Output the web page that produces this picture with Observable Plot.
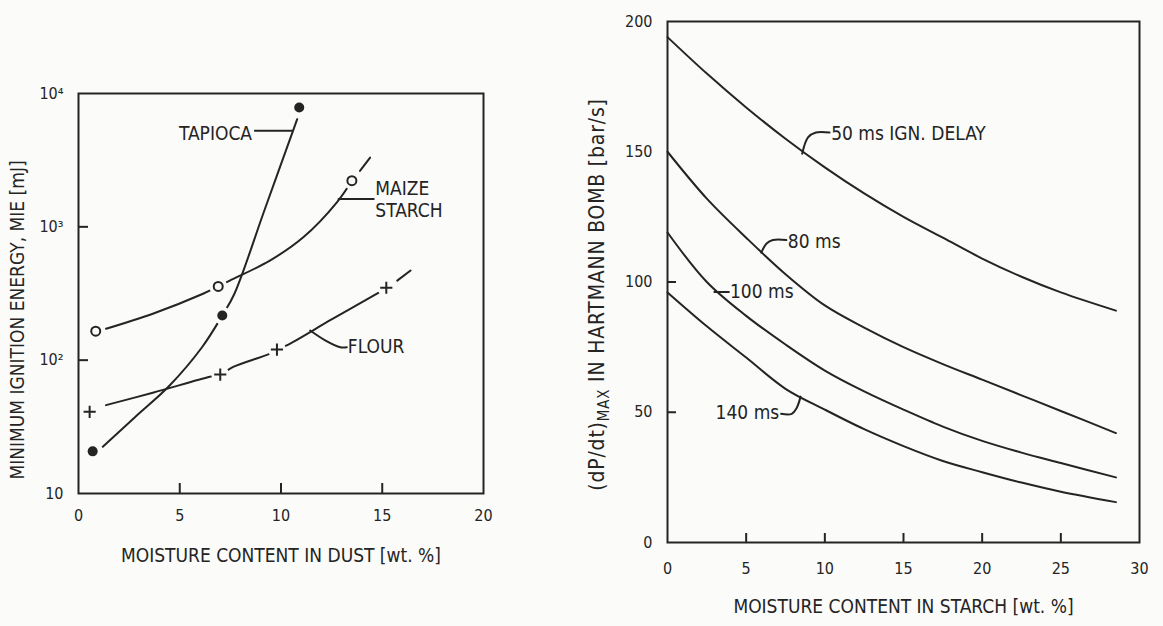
<!DOCTYPE html>
<html><head><meta charset="utf-8">
<script src="https://cdn.jsdelivr.net/npm/d3@7"></script>
<script src="https://cdn.jsdelivr.net/npm/@observablehq/plot@0.6"></script>
<style>
html,body{margin:0;padding:0;background:#fbfbf9;}
#fig{position:relative;width:1163px;height:626px;overflow:hidden;background:#fbfbf9;}
#fig svg{position:absolute;top:0;}
</style></head><body><div id="fig"></div>
<script>
// ---------- LEFT PANEL DATA (MIE vs moisture in dust) ----------
const xTicksL = [0, 5, 10, 15, 20];
const xMarksL = [5, 10, 15];
const yTicksL = [10, 100, 1000, 10000];
const yTickLabelsL = ["10", "10²", "10³", "10⁴"];
const yMarksL = [100, 1000];
const xTitleL = "MOISTURE CONTENT IN DUST [wt. %]";
const yTitleL = "MINIMUM IGNITION ENERGY, MIE [mJ]";

const tapiocaX = [0.7, 7.1, 10.9];
const tapiocaY = [20.7, 216, 7850];
const maizeX = [0.85, 6.9, 13.5];
const maizeY = [165, 357, 2220];
const flourX = [0.55, 7.0, 9.8, 15.2];
const flourY = [41, 78, 120, 349];

const tapiocaCurveX = [1.2, 2.8, 4.5, 6.1, 7.1, 7.7, 9.2, 10.8];
const tapiocaCurveY = [22.4, 37.5, 64.6, 125, 216, 315, 1355, 6420];
const maizeCurveX = [1.36, 3.67, 6.15, 6.9, 7.47, 9.45, 11.1, 12.76, 13.5];
const maizeCurveY = [172, 223, 315, 357, 395, 558, 835, 1528, 2218];
const maizeDashX = [13.9, 14.4];
const maizeDashY = [2630, 3310];
const flourCurveX = [1.36, 3.67, 6.48, 7.0, 7.64, 9.45, 9.8, 10.28, 12.5, 14.74, 15.24];
const flourCurveY = [46, 57, 75, 78, 89, 112, 120, 129, 202, 315, 349];
const flourDashX = [15.74, 16.4];
const flourDashY = [395, 470];

const labelsL = ["TAPIOCA", "MAIZE", "STARCH", "FLOUR"];
const labelLX = [4.96, 14.66, 14.66, 13.3];
const labelLY = [4966, 1923, 1322, 125];
const leaderTapX = [8.71, 10.57], leaderTapY = [5250, 5250];
const leaderMaizeX = [12.84, 14.58], leaderMaizeY = [1618, 1618];
const leaderFlourX = [11.44, 12.18, 12.93, 13.25], leaderFlourY = [167, 141, 125, 125];

// ---------- RIGHT PANEL DATA ((dP/dt)max vs moisture in starch) ----------
const xTicksR = [0, 5, 10, 15, 20, 25, 30];
const xMarksR = [5, 10, 15, 20, 25];
const yTicksR = [0, 50, 100, 150, 200];
const yMarksR = [50, 100];
const xTitleR = "MOISTURE CONTENT IN STARCH [wt. %]";
const yTitleR = ["(dP/dt)", "MAX", " IN HARTMANN BOMB [bar/s]"];

const starchX = [0, 2.5, 5, 7.5, 10, 12.5, 15, 17.5, 20, 22.5, 25, 28.5];
const delay50 = [194, 180, 167, 155, 144, 134, 125, 117, 109, 102, 96, 89];
const delay80 = [150, 132, 117, 103, 91, 82.5, 75, 68.5, 62.5, 56.5, 50.5, 42];
const delay100 = [119, 100, 87, 76, 66, 58, 51, 44.5, 39, 34.5, 30.5, 25];
const delay140 = [96, 83, 71, 59, 51, 43.5, 37, 31.3, 27, 23, 19.5, 15.5];

const labelsR = ["50 ms IGN. DELAY", "80 ms", "100 ms", "140 ms"];
const labelRX = [10.4, 7.65, 3.97, 7.1];
const labelRY = [157, 115.5, 96.2, 49.6];
const leader50X = [8.56, 8.93, 9.43, 10.3], leader50Y = [149.2, 155.5, 157.4, 157.4];
const leader80X = [5.96, 6.3, 6.7, 7.55], leader80Y = [111.3, 114.8, 116.1, 116.1];
const leader100X = [2.98, 3.9], leader100Y = [96.2, 96.2];
const leader140X = [7.22, 7.9, 8.2, 8.46], leader140Y = [49.4, 49.4, 51.5, 56];

// ---------- helpers ----------
const FONT = "'DejaVu Sans Condensed','Liberation Sans Narrow','DejaVu Sans',sans-serif";
const INK = "#242424";
const BG = "#fbfbf9";
const pts = (xs, ys) => xs.map((x, i) => ({x, y: ys[i]}));
const LW = 2;

// ---------- LEFT PLOT ----------
const WL = 540, HL = 626, mlL = 78, mrL = 57, mtL = 93, mbL = 133;
const pwL = WL - mlL - mrL, phL = HL - mtL - mbL;
const allLeftPts = [...pts(tapiocaX, tapiocaY), ...pts(maizeX, maizeY), ...pts(flourX, flourY)];

const plotL = Plot.plot({
  width: WL, height: HL,
  marginLeft: mlL, marginRight: mrL, marginTop: mtL, marginBottom: mbL,
  style: {background: "transparent", fontFamily: FONT, fontSize: "16px", color: INK, overflow: "visible"},
  x: {domain: [0, 20]},
  y: {type: "log", domain: [10, 10000]},
  marks: [
    Plot.axisX({ticks: xTicksL, tickSize: 0, tickPadding: 16, label: null, tickFormat: d => String(d), fill: INK}),
    Plot.axisY({ticks: yTicksL, tickSize: 0, tickPadding: 15, label: null, tickFormat: d => yTickLabelsL[yTicksL.indexOf(d)], fill: INK}),
    Plot.tickX(xMarksL, {x: d => d, insetTop: phL - 10, stroke: INK, strokeWidth: LW}),
    Plot.tickY(yMarksL, {y: d => d, insetRight: pwL - 10, stroke: INK, strokeWidth: LW}),
    Plot.line(pts(tapiocaCurveX, tapiocaCurveY), {x: "x", y: "y", curve: "catmull-rom", stroke: INK, strokeWidth: LW}),
    Plot.line(pts(maizeCurveX, maizeCurveY), {x: "x", y: "y", curve: "catmull-rom", stroke: INK, strokeWidth: LW}),
    Plot.line(pts(maizeDashX, maizeDashY), {x: "x", y: "y", stroke: INK, strokeWidth: LW}),
    Plot.line(pts(flourCurveX, flourCurveY), {x: "x", y: "y", curve: "catmull-rom", stroke: INK, strokeWidth: LW}),
    Plot.line(pts(flourDashX, flourDashY), {x: "x", y: "y", stroke: INK, strokeWidth: LW}),
    Plot.dot(allLeftPts, {x: "x", y: "y", r: 9, fill: BG}),
    Plot.dot(pts(tapiocaX, tapiocaY), {x: "x", y: "y", r: 5, fill: INK}),
    Plot.dot(pts(maizeX, maizeY), {x: "x", y: "y", r: 4.5, fill: BG, stroke: INK, strokeWidth: LW}),
    Plot.dot(pts(flourX, flourY), {x: "x", y: "y", symbol: "plus", r: 4, stroke: INK, strokeWidth: LW}),
    Plot.line(pts(leaderTapX, leaderTapY), {x: "x", y: "y", stroke: INK, strokeWidth: LW}),
    Plot.line(pts(leaderMaizeX, leaderMaizeY), {x: "x", y: "y", stroke: INK, strokeWidth: LW}),
    Plot.line(pts(leaderFlourX, leaderFlourY), {x: "x", y: "y", curve: "catmull-rom", stroke: INK, strokeWidth: LW}),
    Plot.text(labelsL.map((t, i) => ({t, x: labelLX[i], y: labelLY[i]})), {x: "x", y: "y", text: "t", textAnchor: "start", fontSize: 19, fill: INK}),
    Plot.text([xTitleL], {text: d => d, frameAnchor: "bottom", dy: 68, fontSize: 19, fill: INK}),
    Plot.frame({stroke: INK, strokeWidth: LW})
  ]
});
plotL.style.left = "0px";

// rotated y title (left)
d3.select(plotL).append("text")
  .attr("transform", `translate(${mlL - 61},${mtL + phL / 2 + 27}) rotate(-90)`)
  .attr("text-anchor", "middle").attr("dy", "0.35em")
  .attr("font-family", FONT).attr("font-size", 19).attr("fill", INK)
  .text(yTitleL);

// ---------- RIGHT PLOT ----------
const WR = 623, HR = 626, mlR = 127, mrR = 24, mtR = 21, mbR = 84;
const pwR = WR - mlR - mrR, phR = HR - mtR - mbR;
const series = [delay50, delay80, delay100, delay140];

const plotR = Plot.plot({
  width: WR, height: HR,
  marginLeft: mlR, marginRight: mrR, marginTop: mtR, marginBottom: mbR,
  style: {background: "transparent", fontFamily: FONT, fontSize: "16px", color: INK, overflow: "visible"},
  x: {domain: [0, 30]},
  y: {domain: [0, 200]},
  marks: [
    Plot.axisX({ticks: xTicksR, tickSize: 0, tickPadding: 20, label: null, tickFormat: d => String(d), fill: INK}),
    Plot.axisY({ticks: yTicksR, tickSize: 0, tickPadding: 15, label: null, tickFormat: d => String(d), fill: INK}),
    Plot.tickX(xMarksR, {x: d => d, insetTop: phR - 9, stroke: INK, strokeWidth: LW}),
    Plot.tickY(yMarksR, {y: d => d, insetRight: pwR - 9, stroke: INK, strokeWidth: LW}),
    ...series.map(s => Plot.line(pts(starchX, s), {x: "x", y: "y", curve: "catmull-rom", stroke: INK, strokeWidth: LW})),
    Plot.line(pts(leader50X, leader50Y), {x: "x", y: "y", curve: "catmull-rom", stroke: INK, strokeWidth: LW}),
    Plot.line(pts(leader80X, leader80Y), {x: "x", y: "y", curve: "catmull-rom", stroke: INK, strokeWidth: LW}),
    Plot.line(pts(leader100X, leader100Y), {x: "x", y: "y", stroke: INK, strokeWidth: LW}),
    Plot.line(pts(leader140X, leader140Y), {x: "x", y: "y", curve: "catmull-rom", stroke: INK, strokeWidth: LW}),
    Plot.text(labelsR.slice(0, 3).map((t, i) => ({t, x: labelRX[i], y: labelRY[i]})), {x: "x", y: "y", text: "t", textAnchor: "start", fontSize: 19, fill: INK}),
    Plot.text([{t: labelsR[3], x: labelRX[3], y: labelRY[3]}], {x: "x", y: "y", text: "t", textAnchor: "end", fontSize: 19, fill: INK}),
    Plot.text([xTitleR], {text: d => d, frameAnchor: "bottom", dy: 70, fontSize: 19, fill: INK}),
    Plot.frame({stroke: INK, strokeWidth: LW})
  ]
});
plotR.style.left = "540px";

// rotated y title (right) with subscript MAX
const tR = d3.select(plotR).append("text")
  .attr("transform", `translate(${mlR - 70},${mtR + phR / 2 + 13}) rotate(-90)`)
  .attr("text-anchor", "middle")
  .attr("font-family", FONT).attr("font-size", 21).attr("fill", INK)
  .style("letter-spacing", "0.8px");
tR.append("tspan").attr("dy", "0.35em").text(yTitleR[0]);
tR.append("tspan").attr("font-size", 15).attr("dy", 5).text(yTitleR[1]);
tR.append("tspan").attr("dy", -5).text(yTitleR[2]);

const fig = document.getElementById("fig");
fig.appendChild(plotL);
fig.appendChild(plotR);
</script>
</body></html>
